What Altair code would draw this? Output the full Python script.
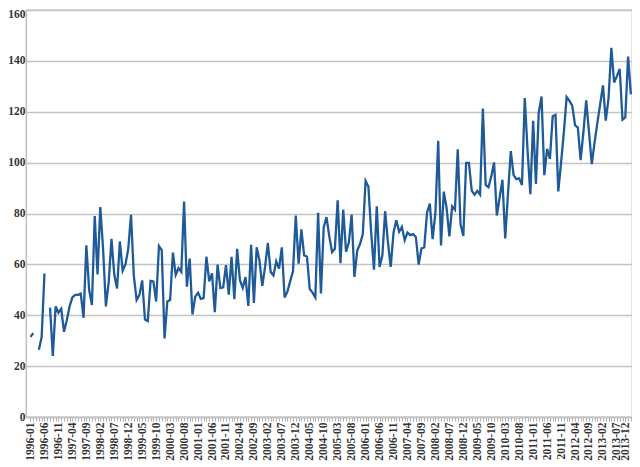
import altair as alt
import pandas as pd

# Monthly categories 1996-01 .. 2013-12
months = [f"{1996 + k // 12}-{k % 12 + 1:02d}" for k in range(216)]
tick_labels = months[::5]

values = [
    31.5, 33, None, 26.4, 31.5, 56.4, None, 43, 24, 43.5,
    41, 42.5, 33.5, 38, 43.5, 47, 48, 48, 48.5, 39,
    67.5, 50, 44, 79, 56, 82.5, 66, 43.5, 53, 70,
    56, 50.5, 69, 57.5, 60, 66, 79.5, 55.6, 46, 48,
    53.7, 38.3, 37.7, 53.5, 53.3, 45.4, 67.2, 65.6, 30.9, 45.4,
    46, 64.6, 55.9, 58.5, 57, 84.7, 51.2, 62.3, 40.3, 47.3,
    48.8, 46.4, 46.7, 63, 53.3, 56.5, 41.2, 59.9, 50.7, 51,
    59.7, 48.1, 63, 46.3, 66.1, 53.8, 50.8, 55, 43.7, 67.7,
    44.8, 66.7, 61.5, 51.5, 59, 68.4, 57, 55.7, 61.2, 58.3,
    66.7, 47, 49.3, 53.4, 57.3, 79.2, 60.3, 73.8, 63.5, 63.1,
    50.3, 48.9, 47, 80.3, 48.6, 74.5, 78.6, 71, 64.8, 66.1,
    85.2, 60.5, 81.5, 65, 68.6, 79.6, 55.1, 65.4, 68, 71.9,
    92.8, 90.6, 72.5, 57.9, 82.8, 59, 63.5, 80.9, 68.6, 59,
    72.5, 77.3, 72.8, 74.7, 69.5, 72.5, 71.5, 71.9, 70.8, 59.9,
    66.3, 66.7, 80.3, 83.9, 69.9, 80.3, 108.6, 67.4, 88.6, 82.2,
    71, 82.8, 81.5, 105.2, 75.7, 71.2, 99.9, 99.9, 89, 87.4,
    88.9, 87.4, 121.3, 91.2, 90.3, 94.5, 100.1, 79.2, 86.3, 93.2,
    70.2, 88, 104.5, 95.1, 93.5, 93.8, 91.2, 125.4, 104.8, 87.6,
    116.4, 91.6, 119.6, 126, 95.1, 105.4, 101.5, 118.2, 118.8, 88.7,
    100, 112, 125.8, 124.3, 122.4, 114.7, 113.8, 101, 112, 124.5,
    112, 99.4, 108, 115.6, 123, 130.4, 116.5, 125.3, 145.1, 131.5,
    134, 136.8, 116.9, 117.8, 141.7, 126.8,
]

y_ticks = [0, 20, 40, 60, 80, 100, 120, 140, 160]

df = pd.DataFrame({"idx": list(range(len(months))), "month": months, "value": values})

labels_js = "[" + ",".join(f"'{t}'" for t in tick_labels) + "]"
label_expr = f"datum.value % 5 === 0 ? {labels_js}[datum.value / 5] : ''"

FONT = "Liberation Serif"
GRID = "#c4c4c4"

chart = alt.Chart(df).mark_line(
    color="#1f5a99", strokeWidth=2.3, invalid="break-paths-show-domains"
).encode(
    x=alt.X(
        "idx:Q",
        scale=alt.Scale(domain=[-1.61, 215.4], nice=False, zero=False),
        axis=alt.Axis(
            values=list(range(len(months))),
            labelExpr=label_expr,
            labelAngle=-90,
            labelAlign="right",
            labelBaseline="middle",
            labelOverlap=False,
            labelBound=False,
            labelFlush=False,
            labelFont=FONT,
            labelFontWeight="bold",
            labelFontSize=11.5,
            labelColor="#333333",
            labelPadding=1,
            labelOffset=alt.condition("datum.value == 215", alt.value(-5), alt.value(0)),
            tickSize=4,
            tickColor="#b0b0b0",
            tickWidth=1,
            domainColor=GRID,
            domainWidth=1.3,
            grid=False,
            title=None,
        ),
    ),
    y=alt.Y(
        "value:Q",
        scale=alt.Scale(domain=[0, 160], nice=False),
        axis=alt.Axis(
            values=y_ticks,
            grid=True,
            gridColor=GRID,
            gridWidth=1.3,
            ticks=False,
            labelPadding=1,
            labelFont=FONT,
            labelFontWeight="bold",
            labelFontSize=11.5,
            labelColor="#333333",
            labelOffset=alt.condition("datum.value == 160", alt.value(4), alt.value(0)),
            domainColor=GRID,
            domainWidth=1.3,
            title=None,
        ),
    ),
).properties(
    width=606,
    height=407,
    autosize=alt.AutoSizeParams(type="none"),
    padding={"left": 18, "top": 2, "right": 0, "bottom": 50},
    background="white",
).configure_view(stroke=GRID, strokeWidth=1.3)

chart.save("out.html", embed_options={"renderer": "svg", "actions": False})
